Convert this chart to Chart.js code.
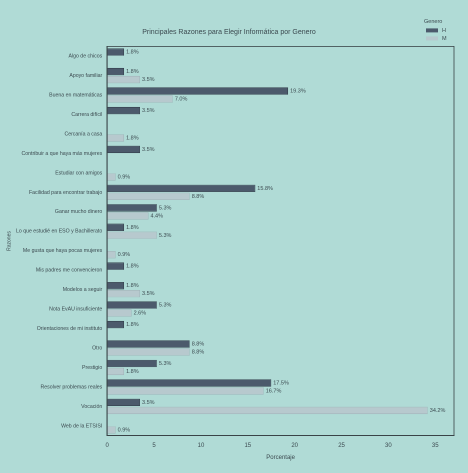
<!DOCTYPE html>
<html>
<head>
<meta charset="utf-8">
<script src="https://cdn.jsdelivr.net/npm/chart.js@4.4.1/dist/chart.umd.min.js"></script>
<style>
  html, body { margin: 0; padding: 0; background: #b0dbd6; }
  #wrap { width: 468px; height: 473px; }
</style>
</head>
<body>
<div id="wrap"><canvas id="chart" width="468" height="473"></canvas></div>
<script>
// razones (eje Y) y porcentajes por genero
const razones = [
    "Algo de chicos",
    "Apoyo familiar",
    "Buena en matemáticas",
    "Carrera difícil",
    "Cercanía a casa",
    "Contribuir a que haya más mujeres",
    "Estudiar con amigos",
    "Facilidad para encontrar trabajo",
    "Ganar mucho dinero",
    "Lo que estudié en ESO y Bachillerato",
    "Me gusta que haya pocas mujeres",
    "Mis padres me convencieron",
    "Modelos a seguir",
    "Nota EvAU insuficiente",
    "Orientaciones de mi instituto",
    "Otro",
    "Prestigio",
    "Resolver problemas reales",
    "Vocación",
    "Web de la ETSISI"
];
const valoresH = [1.8, 1.8, 19.3, 3.5, null, 3.5, null, 15.8, 5.3, 1.8, null, 1.8, 1.8, 5.3, 1.8, 8.8, 5.3, 17.5, 3.5, null];
const valoresM = [null, 3.5, 7.0, null, 1.8, null, 0.9, 8.8, 4.4, 5.3, 0.9, null, 3.5, 2.6, null, 8.8, 1.8, 16.7, 34.2, 0.9];
const ticksX = [0, 5, 10, 15, 20, 25, 30, 35];

const colorH = "#4c5a6c";
const colorM = "#b7c9ce";
const textColor = "#3c4a50";
const fontFam = "'Liberation Sans', Arial, sans-serif";

// etiquetas de valor al final de cada barra
const valueLabels = {
    id: "valueLabels",
    afterDatasetsDraw(chart) {
        const { ctx } = chart;
        ctx.save();
        ctx.font = "5.5px " + fontFam;
        ctx.fillStyle = textColor;
        ctx.textAlign = "left";
        ctx.textBaseline = "middle";
        chart.data.datasets.forEach((ds, di) => {
            const meta = chart.getDatasetMeta(di);
            meta.data.forEach((bar, i) => {
                const v = ds.data[i];
                if (v === null || v === undefined) return;
                ctx.fillText(v.toFixed(1) + "%", bar.x + 2, bar.y);
            });
        });
        ctx.restore();
    }
};

// marco completo y leyenda arriba a la derecha
const frameLegend = {
    id: "frameLegend",
    afterDraw(chart) {
        const { ctx, chartArea: a } = chart;
        ctx.save();
        ctx.strokeStyle = "#3a4448";
        ctx.lineWidth = 0.8;
        ctx.strokeRect(a.left, a.top, a.right - a.left, a.bottom - a.top);

        const x = a.right - 30, y = a.top - 25;
        ctx.font = "5.5px " + fontFam;
        ctx.fillStyle = textColor;
        ctx.textBaseline = "middle";
        ctx.textAlign = "left";
        ctx.fillText("Genero", x, y);
        chart.data.datasets.forEach((ds, i) => {
            const yy = y + 9 + i * 8;
            ctx.fillStyle = ds.backgroundColor;
            ctx.fillRect(x + 2, yy - 2, 12, 4);
            ctx.fillStyle = textColor;
            ctx.fillText(ds.label, x + 18, yy);
        });
        ctx.restore();
    }
};

new Chart(document.getElementById("chart"), {
    type: "bar",
    data: {
        labels: razones,
        datasets: [
            { label: "H", data: valoresH, backgroundColor: colorH, borderColor: "#2f3a46", borderWidth: 0.6 },
            { label: "M", data: valoresM, backgroundColor: colorM, borderColor: "#9fb2b8", borderWidth: 0.6 }
        ]
    },
    options: {
        indexAxis: "y",
        responsive: false,
        animation: false,
        devicePixelRatio: 2,
        layout: { padding: { left: 4, right: 14, top: 6, bottom: 8 } },
        datasets: { bar: { categoryPercentage: 0.82, barPercentage: 0.92 } },
        plugins: {
            legend: { display: false },
            tooltip: { enabled: false },
            title: {
                display: true,
                text: "Principales Razones para Elegir Informática por Genero",
                color: textColor,
                font: { family: fontFam, size: 7, weight: "normal" },
                padding: { top: 22, bottom: 10 }
            }
        },
        scales: {
            x: {
                min: 0,
                max: 37,
                afterBuildTicks(scale) { scale.ticks = ticksX.map(v => ({ value: v })); },
                grid: { display: false, drawTicks: true, tickLength: 3, tickColor: "#3a4448" },
                border: { display: true, color: "#3a4448" },
                ticks: { color: textColor, font: { family: fontFam, size: 6 }, padding: 3 },
                title: { display: true, text: "Porcentaje", color: textColor, font: { family: fontFam, size: 6 }, padding: { top: 2 } }
            },
            y: {
                grid: { display: false, drawTicks: true, tickLength: 3, tickColor: "#3a4448" },
                border: { display: true, color: "#3a4448" },
                ticks: { color: textColor, font: { family: fontFam, size: 5.2 }, padding: 2, autoSkip: false },
                title: { display: true, text: "Razones", color: textColor, font: { family: fontFam, size: 5 }, padding: 2 }
            }
        }
    },
    plugins: [valueLabels, frameLegend]
});
</script>
</body>
</html>
